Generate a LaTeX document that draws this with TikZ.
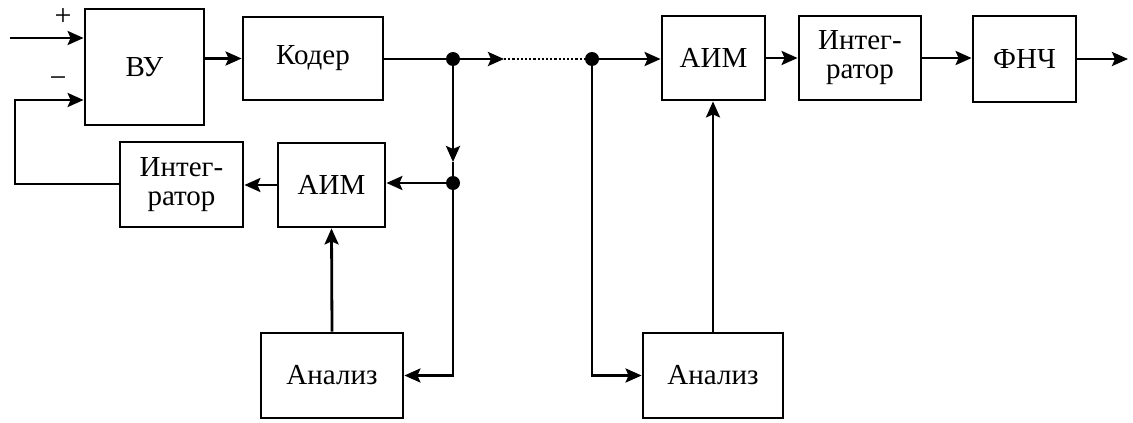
\documentclass[tikz,border=0pt]{standalone}
\usepackage{fontspec}
\setmainfont{Liberation Serif}
\newfontfamily\blkfont{Liberation Serif}
\usetikzlibrary{arrows.meta}
\begin{document}
\begin{tikzpicture}[x=1pt,y=-1pt,
  blk/.style={draw,line width=2.8pt,inner sep=0pt,align=center,
    font=\blkfont\fontsize{29}{29}\selectfont},
  con/.style={line width=2.8pt},
  arr/.style={con,-{Stealth[length=16pt,width=14pt,inset=3pt]}},
  dot/.style={circle,fill,inner sep=0pt,minimum size=14pt},
  sgn/.style={font=\blkfont\fontsize{30}{30}\selectfont,inner sep=0pt}]
\useasboundingbox (0,0) rectangle (1133,423);
% blocks
\node[blk,minimum width=119pt,minimum height=116pt] (vu) at (144.5,67) {ВУ};
\node[blk,minimum width=140pt,minimum height=83pt] (koder) at (313,58.5) {Кодер};
\node[blk,minimum width=107pt,minimum height=84pt] (aim1) at (331.5,185) {АИМ};
\node[blk,minimum width=123pt,minimum height=85pt] (int1) at (181.5,184.5) {Интег-\\ратор};
\node[blk,minimum width=142pt,minimum height=85pt] (an1) at (332,375.5) {Анализ};
\node[blk,minimum width=103pt,minimum height=84pt] (aim2) at (713.5,58) {АИМ};
\node[blk,minimum width=122pt,minimum height=84pt] (int2) at (860,58) {Интег-\\ратор};
\node[blk,minimum width=103pt,minimum height=86pt] (fnch) at (1024.5,59) {ФНЧ};
\node[blk,minimum width=140pt,minimum height=85pt] (an2) at (713,375.5) {Анализ};
% junctions
\node[dot] (j1) at (453,59) {};
\node[dot] (j2) at (453,183) {};
\node[dot] (j3) at (592,59) {};
\coordinate (in) at (10,38);
\coordinate (ar1) at (504,59);
\coordinate (md) at (453,162);
\coordinate (fb1) at (15,184);
\coordinate (fb2) at (15,100);
\coordinate (out) at (1128,59);
% signs
\node[sgn] (plus) at (63,17) {+};
\node[sgn] (minus) at (58,82) {−};
% connectors
\draw[arr] (in) -- (vu.west |- in);
\draw[arr] (int1.west |- fb1) -- (fb1) -- (fb2) -- (vu.west |- fb2);
\draw[arr] (vu.east |- koder) -- (koder.west);
\draw[con] (koder.east |- j1) -- (j1);
\draw[arr] (j1) -- (ar1);
\draw[con,line width=2.2pt,dotted] (ar1) -- (j3);
\draw[arr] (j3) -- (aim2.west |- j3);
\draw[arr] (j1) -- (md);
\draw[con] (md) -- (j2);
\draw[arr] (j2) -- (aim1.east |- j2);
\draw[arr] (j2) -- (j2 |- an1.east) -- (an1.east);
\draw[arr] (an1.north) -- (aim1.south);
\draw[arr] (aim1.west) -- (int1.east |- aim1.west);
\draw[arr] (j3) -- (j3 |- an2.west) -- (an2.west);
\draw[arr] (an2.north) -- (an2.north |- aim2.south);
\draw[arr] (aim2.east) -- (int2.west);
\draw[arr] (int2.east) -- (fnch.west |- int2.east);
\draw[arr] (fnch.east) -- (out);
\end{tikzpicture}
\end{document}
